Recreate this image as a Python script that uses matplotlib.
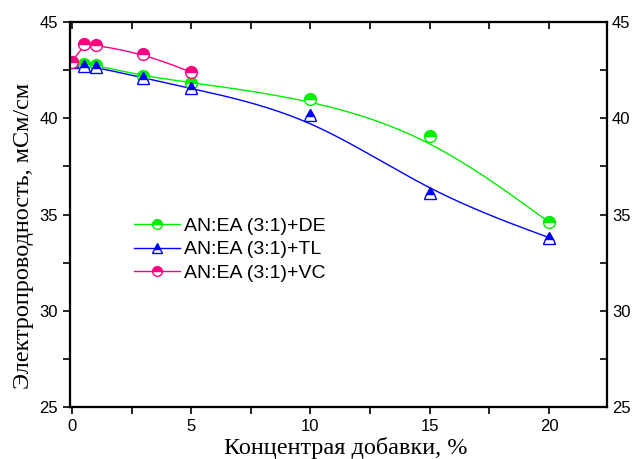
import numpy as np
import matplotlib
matplotlib.use("Agg")
import matplotlib.pyplot as plt
from matplotlib.ticker import MultipleLocator

# данные
conc = [0, 0.5, 1, 3, 5, 10, 15, 20]
de = [42.9, 42.8, 42.75, 42.2, 41.85, 41.0, 39.1, 34.6]
tl = [42.9, 42.7, 42.65, 42.1, 41.55, 40.15, 36.1, 33.8]
conc_vc = [0, 0.5, 1, 3, 5]
vc = [42.9, 43.85, 43.8, 43.35, 42.4]

labels = ["AN:EA (3:1)+DE", "AN:EA (3:1)+TL", "AN:EA (3:1)+VC"]
colors = ["#00ee00", "#0000ff", "#ff0080"]


def bspline(x, y, n=40):
    # кубический B-сплайн (как линия "B-Spline" в Origin), концы закреплены
    P = np.column_stack([x, y]).astype(float)
    P = np.vstack([P[:1], P[:1], P, P[-1:], P[-1:]])
    t = np.linspace(0, 1, n)[:, None]
    b0 = (1 - t) ** 3 / 6
    b1 = (3 * t ** 3 - 6 * t ** 2 + 4) / 6
    b2 = (-3 * t ** 3 + 3 * t ** 2 + 3 * t + 1) / 6
    b3 = t ** 3 / 6
    pts = [b0 * P[i] + b1 * P[i + 1] + b2 * P[i + 2] + b3 * P[i + 3]
           for i in range(len(P) - 3)]
    pts = np.vstack(pts)
    return pts[:, 0], pts[:, 1]


fig = plt.figure(figsize=(6.38, 4.59), dpi=100)
ax = fig.add_axes([0.1097, 0.1133, 0.8417, 0.8387])

for xx, yy, c in [(conc, de, colors[0]), (conc, tl, colors[1]), (conc_vc, vc, colors[2])]:
    bx, by = bspline(xx, yy)
    ax.plot(bx, by, color=c, lw=1, zorder=2)

mk = dict(ms=8.5, mew=1, markerfacecoloralt="white", fillstyle="top", ls="none", zorder=3)
ax.plot(conc, de, marker="o", color=colors[0], **mk)
ax.plot(conc, tl, marker="^", color=colors[1], **mk)
ax.plot(conc_vc, vc, marker="o", color=colors[2], **mk)

# легенда
h = []
for lab, c, m in zip(labels, colors, ["o", "^", "o"]):
    h.append(ax.plot([], [], color=c, lw=1, marker=m, ms=7, mew=1,
                     markerfacecoloralt="white", fillstyle="top", label=lab)[0])
ax.legend(handles=h, loc="upper left", bbox_to_anchor=(0.101, 0.518), frameon=False,
          prop={"family": "Liberation Sans", "size": 14}, handlelength=2.35,
          handletextpad=0.2, labelspacing=0.3, borderpad=0)

ax.set_xlim(-0.08, 22.43)
ax.set_ylim(25, 45)
ax.xaxis.set_major_locator(MultipleLocator(5))
ax.xaxis.set_minor_locator(MultipleLocator(2.5))
ax.yaxis.set_major_locator(MultipleLocator(5))
ax.yaxis.set_minor_locator(MultipleLocator(2.5))
ax.tick_params(which="both", direction="out", length=5, width=1.2,
               labelsize=12, top=False, right=False)
for t in ax.get_xticklabels() + ax.get_yticklabels():
    t.set_family("Liberation Sans")

# правая ось и верхние засечки
axr = ax.twinx()
axr.set_ylim(25, 45)
axr.yaxis.set_major_locator(MultipleLocator(5))
axr.yaxis.set_minor_locator(MultipleLocator(2.5))
axr.tick_params(which="both", direction="in", length=5, width=1.2, labelsize=12)
for t in axr.get_yticklabels():
    t.set_family("Liberation Sans")
axt = ax.twiny()
axt.set_xlim(ax.get_xlim())
axt.xaxis.set_major_locator(MultipleLocator(5))
axt.xaxis.set_minor_locator(MultipleLocator(2.5))
axt.tick_params(which="both", direction="in", length=5, width=1.2, labeltop=False)

for a in (ax, axr, axt):
    for s in a.spines.values():
        s.set_linewidth(1.5)

ax.set_xlabel("Концентрая добавки, %", family="Liberation Serif", fontsize=17.5,
              labelpad=2, x=0.514)
ax.set_ylabel("Электропроводность, мСм/см", family="Liberation Serif", fontsize=17.5,
              labelpad=4, y=0.444)

fig.savefig("out.png", dpi=100)
